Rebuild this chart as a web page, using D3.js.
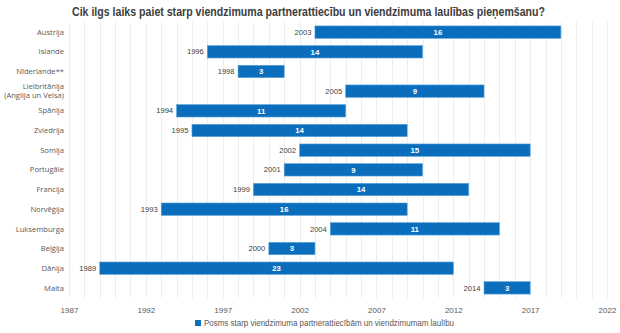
<!DOCTYPE html>
<html>
<head>
<meta charset="utf-8">
<script src="https://cdn.jsdelivr.net/npm/d3@7.9.0/dist/d3.min.js"></script>
<style>
  html, body { margin: 0; padding: 0; background: #fff; }
  svg { display: block; }
</style>
</head>
<body>
<div id="chart"></div>
<script>
// Countries, year of partnership law and years until marriage law
const countries = ['Austrija', 'Islande', 'Nīderlande**', 'Lielbritānija\n(Anglija un Velsa)', 'Spānija', 'Zviedrija', 'Somija', 'Portugāle', 'Francija', 'Norvēģija', 'Luksemburga', 'Beļģija', 'Dānija', 'Malta'];
const startYears = [2003, 1996, 1998, 2005, 1994, 1995, 2002, 2001, 1999, 1993, 2004, 2000, 1989, 2014];
const gapYears = [16, 14, 3, 9, 11, 14, 15, 9, 14, 16, 11, 3, 23, 3];
const xTicks = [1987, 1992, 1997, 2002, 2007, 2012, 2017, 2022];

const title = 'Cik ilgs laiks paiet starp viendzimuma partnerattiecību un viendzimuma laulības pieņemšanu?';
const legendLabel = 'Posms starp viendzimuma partnerattiecībām un viendzimumam laulību';

const width = 620, height = 333;
const margin = { top: 22, right: 13, bottom: 35, left: 69 };
const blue = '#0a6ebd';
const sans = '"Liberation Sans", Arial, sans-serif';

const rows = countries.map((c, i) => ({ country: c, start: startYears[i], gap: gapYears[i] }));

const svg = d3.select('#chart').append('svg')
  .attr('width', width)
  .attr('height', height);

const x = d3.scaleLinear()
  .domain([1987, 2022])
  .range([margin.left, width - margin.right]);

const y = d3.scaleBand()
  .domain(countries)
  .range([margin.top, height - margin.bottom])
  .paddingInner(0.37)
  .paddingOuter(0.2);

// Title (squeezed to a condensed look)
svg.append('text')
  .attr('x', 72)
  .attr('y', 16)
  .attr('textLength', 473)
  .attr('lengthAdjust', 'spacingAndGlyphs')
  .style('font-family', sans)
  .style('font-weight', 'bold')
  .style('font-size', '12.2px')
  .attr('fill', '#3d3d3d')
  .text(title);

// Yearly gridlines
svg.append('g')
  .selectAll('line')
  .data(d3.range(1987, 2023))
  .join('line')
  .attr('x1', (d) => Math.round(x(d)) + 0.5)
  .attr('x2', (d) => Math.round(x(d)) + 0.5)
  .attr('y1', margin.top)
  .attr('y2', height - margin.bottom)
  .attr('stroke', '#ededed')
  .attr('stroke-width', 1);

// X axis labels
const xAxis = svg.append('g')
  .attr('transform', `translate(0, ${height - margin.bottom})`)
  .call(d3.axisBottom(x).tickValues(xTicks).tickFormat(d3.format('d')).tickSize(0).tickPadding(9));
xAxis.select('.domain').remove();
xAxis.selectAll('text')
  .style('font-family', sans)
  .style('font-size', '8px')
  .attr('fill', '#595959');

// Country labels
const yLabels = svg.append('g')
  .selectAll('text')
  .data(countries)
  .join('text')
  .attr('y', (d) => y(d) + y.bandwidth() / 2)
  .attr('text-anchor', 'end')
  .style('font-family', '"Open Sans", sans-serif')
  .style('font-size', '7.6px')
  .attr('fill', '#595959');
yLabels.each(function (d) {
  const parts = d.split('\n');
  const t = d3.select(this);
  parts.forEach((p, i) => {
    t.append('tspan')
      .attr('x', 64)
      .attr('dy', i === 0 ? `${0.35 - (parts.length - 1) * 0.6}em` : '1.2em')
      .text(p);
  });
});

// Bars
const bars = svg.append('g')
  .selectAll('g')
  .data(rows)
  .join('g');

bars.append('rect')
  .attr('x', (d) => x(d.start))
  .attr('y', (d) => y(d.country))
  .attr('width', (d) => x(d.start + d.gap) - x(d.start))
  .attr('height', y.bandwidth())
  .attr('fill', blue)
  .attr('stroke', '#5aa3da')
  .attr('stroke-width', 0.6);

// Gap value inside the bar
bars.append('text')
  .attr('x', (d) => x(d.start + d.gap / 2))
  .attr('y', (d) => y(d.country) + y.bandwidth() / 2)
  .attr('dy', '0.35em')
  .attr('text-anchor', 'middle')
  .style('font-family', sans)
  .style('font-weight', 'bold')
  .style('font-size', '7.8px')
  .attr('fill', '#fff')
  .text((d) => d.gap);

// Start year left of the bar
bars.append('text')
  .attr('x', (d) => x(d.start) - 3.5)
  .attr('y', (d) => y(d.country) + y.bandwidth() / 2)
  .attr('dy', '0.35em')
  .attr('text-anchor', 'end')
  .style('font-family', sans)
  .style('font-size', '7.6px')
  .attr('fill', '#404040')
  .text((d) => d.start);

// Legend
const legend = svg.append('g').attr('transform', 'translate(195, 323)');
legend.append('rect')
  .attr('x', 0)
  .attr('y', -3)
  .attr('width', 6)
  .attr('height', 6)
  .attr('fill', blue);
legend.append('text')
  .attr('x', 9)
  .attr('y', 0)
  .attr('dy', '0.35em')
  .attr('textLength', 250)
  .attr('lengthAdjust', 'spacingAndGlyphs')
  .style('font-family', sans)
  .style('font-size', '8.3px')
  .attr('fill', '#595959')
  .text(legendLabel);
</script>
</body>
</html>
